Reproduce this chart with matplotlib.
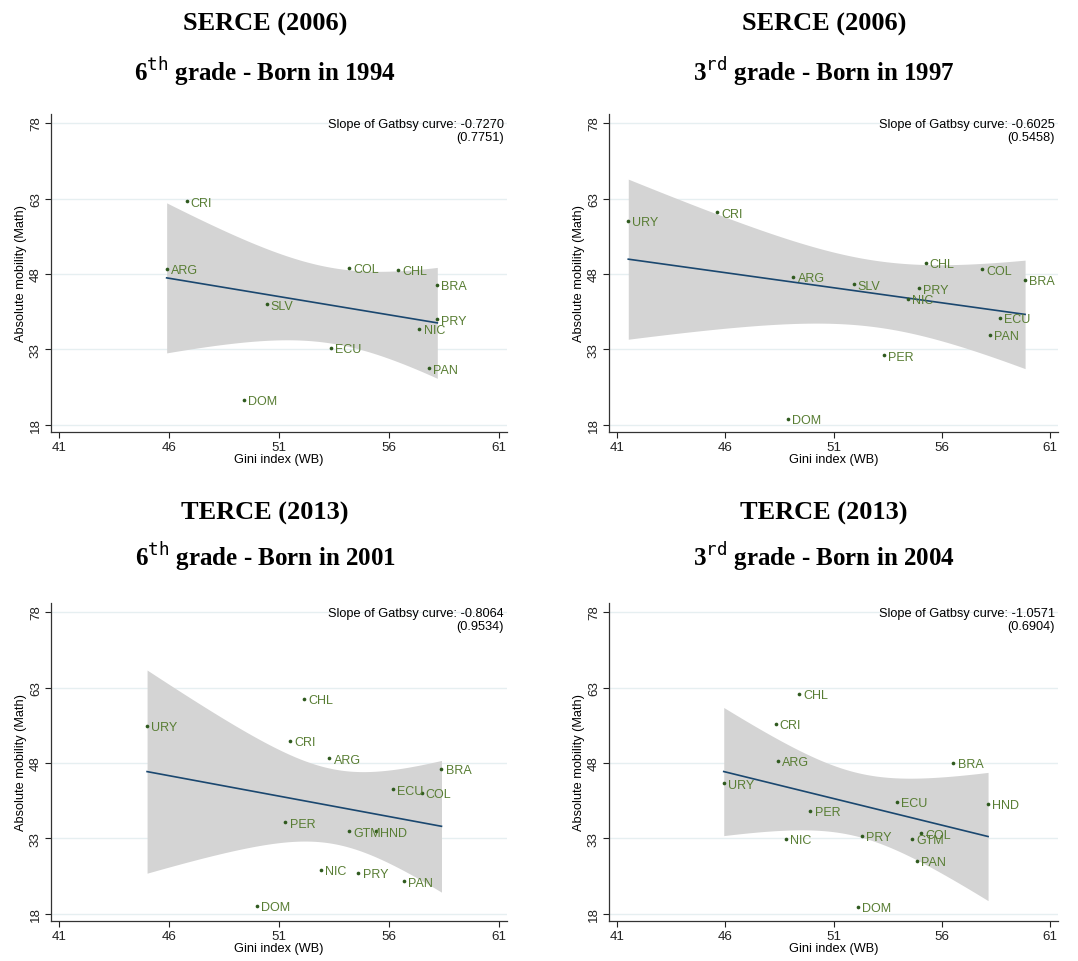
import numpy as np
import matplotlib
matplotlib.use("Agg")
import matplotlib.pyplot as plt

# ---- data ----
p1_names = ['CRI', 'ARG', 'COL', 'CHL', 'BRA', 'SLV', 'PRY', 'NIC', 'ECU', 'PAN', 'DOM']
p1_gini = [46.79, 45.88, 54.18, 56.39, 58.19, 50.43, 58.19, 57.38, 53.37, 57.79, 49.39]
p1_math = [62.44, 49.0, 49.26, 48.8, 45.8, 42.0, 39.0, 37.14, 33.3, 29.26, 23.03]

p2_names = ['URY', 'CRI', 'CHL', 'COL', 'BRA', 'ARG', 'SLV', 'PRY', 'NIC', 'ECU', 'PAN', 'PER', 'DOM']
p2_gini = [41.51, 45.62, 55.24, 57.84, 59.84, 49.14, 51.92, 54.93, 54.44, 58.66, 58.23, 53.33, 48.90]
p2_math = [58.53, 60.25, 50.25, 48.93, 46.87, 47.4, 45.95, 45.15, 43.03, 39.26, 35.88, 31.84, 19.2]

p3_names = ['URY', 'CHL', 'CRI', 'ARG', 'BRA', 'ECU', 'COL', 'PER', 'GTM', 'HND', 'NIC', 'PRY', 'PAN', 'DOM']
p3_gini = [44.99, 52.13, 51.49, 53.28, 58.38, 56.16, 57.48, 51.28, 54.18, 55.39, 52.89, 54.60, 56.69, 49.99]
p3_math = [55.42, 60.72, 52.44, 48.93, 46.87, 42.77, 42.11, 36.21, 34.42, 34.42, 26.74, 26.21, 24.5, 19.66]

p4_names = ['CHL', 'CRI', 'ARG', 'BRA', 'URY', 'ECU', 'HND', 'PER', 'COL', 'PRY', 'GTM', 'NIC', 'PAN', 'DOM']
p4_gini = [49.41, 48.32, 48.41, 56.53, 45.92, 53.93, 58.13, 49.92, 55.02, 52.31, 54.62, 48.81, 54.84, 52.12]
p4_math = [61.71, 55.81, 48.4, 48.0, 43.96, 40.25, 39.85, 38.53, 34.03, 33.5, 32.97, 32.9, 28.6, 19.4]

titles1 = ['SERCE (2006)', 'SERCE (2006)', 'TERCE (2013)', 'TERCE (2013)']
titles2 = [r'6$^{\mathtt{th}}$ grade - Born in 1994', r'3$^{\mathtt{rd}}$ grade - Born in 1997',
           r'6$^{\mathtt{th}}$ grade - Born in 2001', r'3$^{\mathtt{rd}}$ grade - Born in 2004']
slopes = ['-0.7270', '-0.6025', '-0.8064', '-1.0571']
ses = ['(0.7751)', '(0.5458)', '(0.9534)', '(0.6904)']

xticks = [41, 46, 51, 56, 61]
yticks = [18, 33, 48, 63, 78]

# t critical values (95%) by degrees of freedom
tcrit = {9: 2.262, 11: 2.201, 12: 2.179}

W, H = 1078, 962
fig = plt.figure(figsize=(W / 100, H / 100), dpi=100)

# axes boxes in pixels: left, top, right, bottom
boxes = [(51, 115, 507, 433), (609, 115, 1058, 433),
         (51, 604, 507, 922), (609, 604, 1058, 922)]
title_xy = [(265, 24, 72), (824, 24, 72), (265, 513, 557), (824, 513, 557)]

panels = [(p1_names, p1_gini, p1_math), (p2_names, p2_gini, p2_math),
          (p3_names, p3_gini, p3_math), (p4_names, p4_gini, p4_math)]

sans = 'Liberation Sans'
lab_col = '#587d33'
dot_col = '#2f5a1e'

for i, (names, gx, my) in enumerate(panels):
    l, t, r, b = boxes[i]
    ax = fig.add_axes([l / W, 1 - b / H, (r - l) / W, (b - t) / H])
    x = np.array(gx)
    y = np.array(my)
    n = len(x)

    # linear fit with 95% CI of the mean
    b1, b0 = np.polyfit(x, y, 1)
    res = y - (b0 + b1 * x)
    s = np.sqrt(np.sum(res ** 2) / (n - 2))
    sxx = np.sum((x - x.mean()) ** 2)
    xs = np.linspace(x.min(), x.max(), 200)
    yh = b0 + b1 * xs
    hw = tcrit[n - 2] * s * np.sqrt(1.0 / n + (xs - x.mean()) ** 2 / sxx)
    ax.fill_between(xs, yh - hw, yh + hw, color='#d4d4d4', lw=0, zorder=1)
    ax.plot(xs, yh, color='#1a476f', lw=1.2, zorder=2)

    ax.scatter(x, y, s=7, color=dot_col, zorder=3, linewidths=0)
    for nm, xx, yy in zip(names, x, y):
        ax.annotate(nm, (xx, yy), xytext=(3, -1), textcoords='offset points',
                    ha='left', va='center', fontsize=9, color=lab_col, family=sans, zorder=4)

    ax.set_xlim(40.62, 61.36)
    ax.set_ylim(16.6, 79.8)
    ax.set_xticks(xticks)
    ax.set_yticks(yticks)
    ax.set_yticklabels([str(v) for v in yticks], rotation=90, va='center')
    for yv in yticks:
        ax.axhline(yv, color='#e6eff1', lw=1, zorder=0)
    for sp in ['top', 'right']:
        ax.spines[sp].set_visible(False)
    for sp in ['left', 'bottom']:
        ax.spines[sp].set_color('#333333')
        ax.spines[sp].set_linewidth(0.9)
    ax.tick_params(colors='#222222', labelsize=9.6, length=4, width=0.8, pad=2.5)
    for lb in ax.get_xticklabels() + ax.get_yticklabels():
        lb.set_family(sans)
    ax.set_xlabel('Gini index (WB)', fontsize=9.2, family=sans, labelpad=0)
    ax.set_ylabel('Absolute mobility (Math)', fontsize=9.2, family=sans, labelpad=2)

    ax.text(0.993, 0.987, 'Slope of Gatbsy curve: ' + slopes[i] + '\n' + ses[i],
            transform=ax.transAxes, ha='right', va='top', fontsize=9.2,
            family=sans, linespacing=1.05, multialignment='right')

    tx, ty1, ty2 = title_xy[i]
    fig.text(tx / W, 1 - ty1 / H, titles1[i], ha='center', va='center',
             fontsize=19, fontweight='bold', family='Liberation Serif')
    fig.text(tx / W, 1 - ty2 / H, titles2[i], ha='center', va='center',
             fontsize=18, fontweight='bold', family='Liberation Serif')

fig.savefig('out.png', dpi=100)
